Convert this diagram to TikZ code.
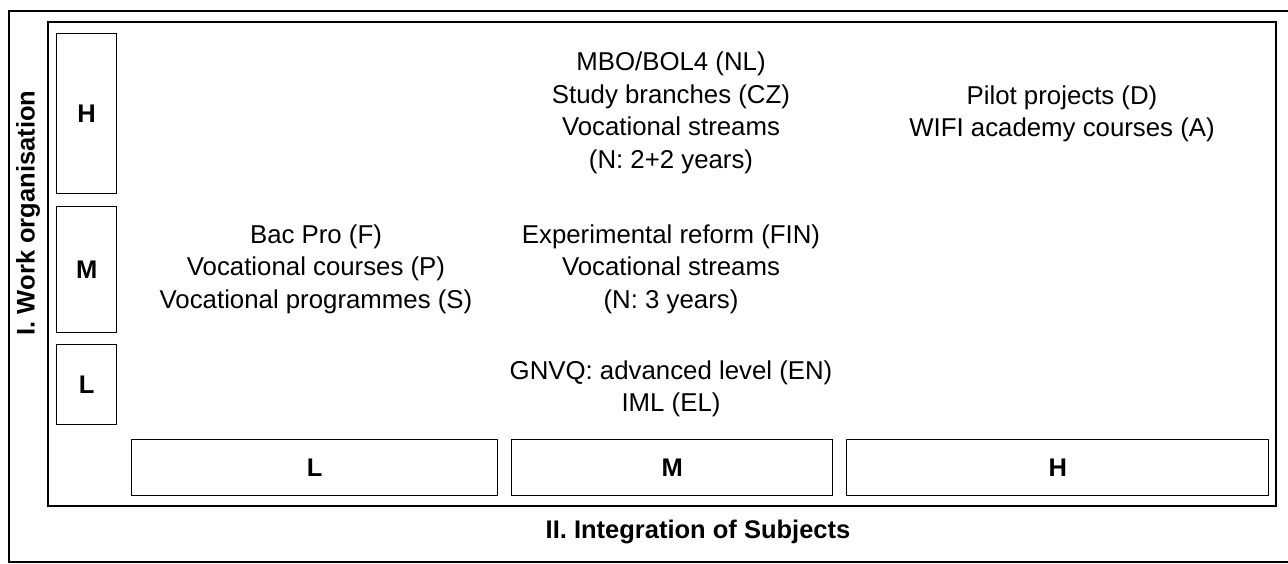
\documentclass[tikz,border=0pt]{standalone}
\usepackage{fontspec}
\setmainfont{Liberation Sans}
\begin{document}
\begin{tikzpicture}[x=1pt,y=-1pt,
  frame/.style={line width=1.6pt},
  cell/.style={draw,line width=1.4pt,inner sep=0pt,anchor=north west},
  lab/.style={font=\fontsize{25.5}{32}\selectfont\bfseries},
  entry/.style={align=center,font=\fontsize{25.8}{32.5}\selectfont}]
\useasboundingbox (0,0) rectangle (1288,564);
% outer frame, open on the right
\draw[frame] (1288,11) -- (9,11) -- (9,562) -- (1288,562);
% inner frame
\draw[frame] (48,22) rectangle (1276,506);
% vertical scale: work organisation
\node[cell,minimum width=60pt,minimum height=160pt] (vH) at (56,33) {};
\node[cell,minimum width=60pt,minimum height=126pt] (vM) at (56,206) {};
\node[cell,minimum width=60pt,minimum height=80pt]  (vL) at (56,344) {};
\node[lab] at (vH.center) {H};
\node[lab] at (vM.center) {M};
\node[lab] at (vL.center) {L};
% horizontal scale: integration of subjects
\node[cell,minimum width=366pt,minimum height=56pt] (hL) at (131,439) {};
\node[cell,minimum width=321pt,minimum height=56pt] (hM) at (511,439) {};
\node[cell,minimum width=422pt,minimum height=56pt] (hH) at (846,439) {};
\node[lab] at (hL.center) {L};
\node[lab] at (hM.center) {M};
\node[lab] at (hH.center) {H};
% axis titles
\node[lab,rotate=90] (ytitle) at (28,213) {I. Work organisation};
\node[lab] (xtitle) at (698,532) {II. Integration of Subjects};
% entries
\node[entry] (MH) at (671,113) {MBO/BOL4 (NL)\\Study branches (CZ)\\Vocational streams\\(N: 2+2 years)};
\node[entry] (HH) at (1062,114) {Pilot projects (D)\\WIFI academy courses (A)};
\node[entry] (LM) at (316,269) {Bac Pro (F)\\Vocational courses (P)\\Vocational programmes (S)};
\node[entry] (MM) at (671,269) {Experimental reform (FIN)\\Vocational streams\\(N: 3 years)};
\node[entry] (ML) at (671,389) {GNVQ: advanced level (EN)\\IML (EL)};
\end{tikzpicture}
\end{document}
